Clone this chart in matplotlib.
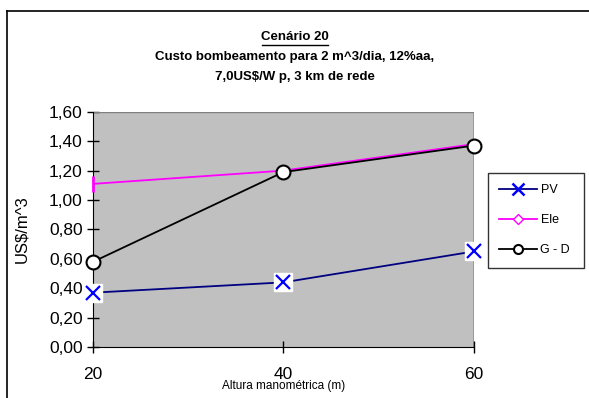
import matplotlib
matplotlib.use('Agg')
import matplotlib.pyplot as plt
from matplotlib.lines import Line2D
from matplotlib.ticker import FuncFormatter

plt.rcParams['font.family'] = ['Liberation Sans', 'DejaVu Sans']

altura = [20, 40, 60]
pv = [0.37, 0.44, 0.65]
ele = [1.11, 1.20, 1.38]
gd = [0.58, 1.19, 1.37]
yticks = [0.0, 0.2, 0.4, 0.6, 0.8, 1.0, 1.2, 1.4, 1.6]

fig = plt.figure(figsize=(5.89, 3.98), dpi=100)
ax = fig.add_axes([0.158, 0.128, 0.646, 0.591])
ax.set_facecolor('#c0c0c0')

# outer chart frame (left and top edges visible)
fig.add_artist(plt.Line2D([7/589, 7/589], [0, 1 - 11/398], color='black', lw=1.2,
                          transform=fig.transFigure))
fig.add_artist(plt.Line2D([7/589, 1], [1 - 11/398, 1 - 11/398], color='black', lw=1.2,
                          transform=fig.transFigure))

# PV: navy line, blue x on white square
ax.plot(altura, pv, color='#000080', lw=1.3, zorder=3)
ax.plot(altura, pv, ls='none', marker='s', ms=13, mfc='white', mec='white',
        clip_on=False, zorder=4)
ax.plot(altura, pv, ls='none', marker='x', ms=10, mew=1.6, color='#0000ff',
        clip_on=False, zorder=5)

# Ele: magenta line
ax.plot(altura, ele, color='#ff00ff', lw=1.3, zorder=3)
ax.plot(altura[:1], ele[:1], ls='none', marker='|', ms=11, mew=2, color='#ff00ff',
        clip_on=False, zorder=4)

# G-D: black line, white circles
ax.plot(altura, gd, color='black', lw=1.3, marker='o', ms=10, mfc='white',
        mec='black', mew=1.5, clip_on=False, zorder=6)

ax.set_xlim(20, 60)
ax.set_ylim(0, 1.6)
ax.set_xticks(altura)
ax.set_yticks(yticks)
ax.yaxis.set_major_formatter(FuncFormatter(lambda v, p: f'{v:.2f}'.replace('.', ',')))
ax.tick_params(axis='both', direction='inout', length=8, width=1, labelsize=12.5)
ax.tick_params(axis='x', pad=10)
for s in ['top', 'right']:
    ax.spines[s].set_visible(False)
ax.plot([60, 60], [0, 1.6], color='black', lw=1, zorder=2)
ax.plot([20, 60], [1.6, 1.6], color='#808080', lw=1, zorder=2)

ax.set_ylabel('US$/m^3', fontsize=12)
ax.yaxis.set_label_coords(-0.167, 0.5)
ax.set_xlabel('Altura manométrica (m)', fontsize=8.5)
ax.xaxis.set_label_coords(0.5, -0.14)

handles = [
    Line2D([], [], color='#000080', lw=1.3, marker='x', ms=8, mew=1.8, mec='#0000ff'),
    Line2D([], [], color='#ff00ff', lw=1.3, marker='D', ms=5.5, mfc='white', mec='#ff00ff'),
    Line2D([], [], color='black', lw=1.3, marker='o', ms=6.5, mfc='white', mec='black', mew=1.5),
]
leg = fig.legend(handles, ['PV', 'Ele', 'G - D'], loc='upper left',
                 bbox_to_anchor=(488/589, 1 - 267/398, 96/589, 94/398),
                 mode='expand', fontsize=9, frameon=True, fancybox=False,
                 edgecolor='black', borderpad=0.9, labelspacing=1.45,
                 handlelength=3.0, handletextpad=0.3, borderaxespad=0)
leg.get_frame().set_linewidth(1)

fig.text(0.5, 1 - 37/398, 'Cenário 20', ha='center', va='center', fontsize=9.5,
         fontweight='bold')
fig.add_artist(plt.Line2D([0.5 - 33/589, 0.5 + 33/589], [1 - 45/398, 1 - 45/398],
                          color='black', lw=1, transform=fig.transFigure))
fig.text(0.5, 1 - 57/398, 'Custo bombeamento para 2 m^3/dia, 12%aa,', ha='center',
         va='center', fontsize=9.5, fontweight='bold')
fig.text(0.5, 1 - 77/398, '7,0US$/W p, 3 km de rede', ha='center', va='center',
         fontsize=9.5, fontweight='bold')

fig.savefig('out.png', dpi=100)
